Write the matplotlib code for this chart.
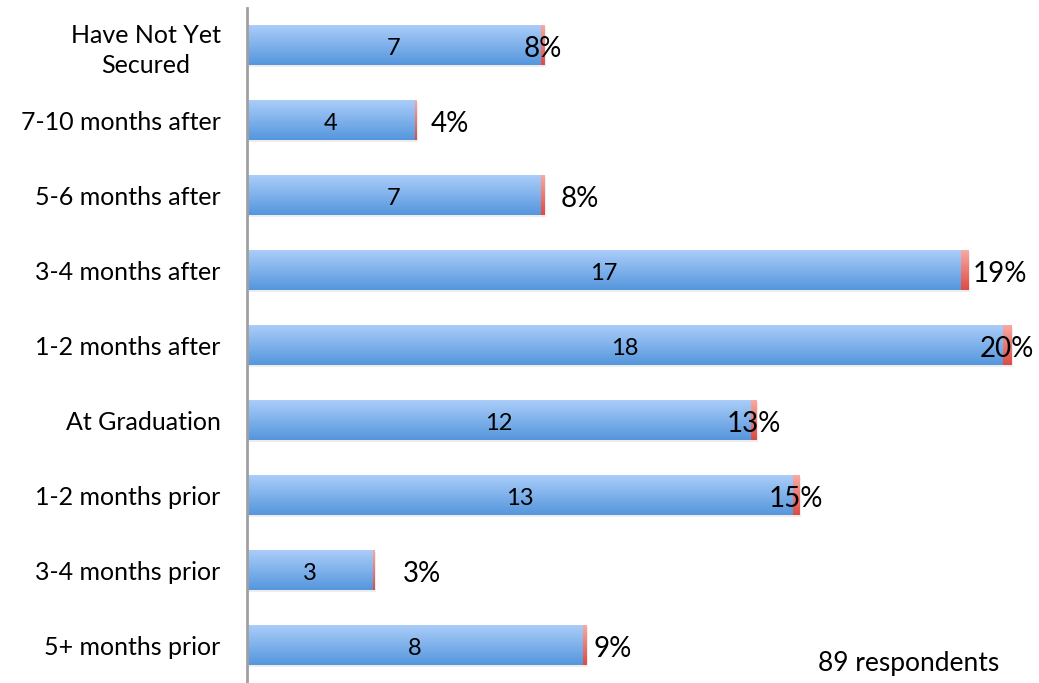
import matplotlib.pyplot as plt
from matplotlib.colors import LinearSegmentedColormap
import numpy as np

plt.rcParams['font.family'] = ['Lato', 'DejaVu Sans']

categories = ["Have Not Yet\nSecured", "7-10 months after", "5-6 months after",
              "3-4 months after", "1-2 months after", "At Graduation",
              "1-2 months prior", "3-4 months prior", "5+ months prior"]
counts = [7, 4, 7, 17, 18, 12, 13, 3, 8]
percents = [8, 4, 8, 19, 20, 13, 15, 3, 9]

# where Excel pushed the % labels sideways (in bar units)
label_shift = [0, 0.82, 0.88, 0.83, 0, 0, 0, 1.15, 0.66]

blue = LinearSegmentedColormap.from_list("blue", ["#5596dd", "#aacdf9"])
red = LinearSegmentedColormap.from_list("red", ["#dd4c44", "#f9a9a2"])
grad = np.linspace(1, 0, 64).reshape(-1, 1)


def fill_gradient(ax, bars, cmap):
    for b in bars:
        x0, y0 = b.get_x(), b.get_y()
        w, h = b.get_width(), b.get_height()
        ax.imshow(grad, cmap=cmap, aspect="auto", interpolation="bilinear",
                  extent=(x0, x0 + w, y0 + h, y0), origin="upper",
                  clip_path=b, zorder=2)


fig = plt.figure(figsize=(10.39, 6.83), dpi=100)
ax = fig.add_axes([247 / 1039, 0.0007, 792 / 1039, 675 / 683])

y = np.arange(len(categories))
frac = np.array(percents) / 100
h = 0.53

# soft shadow under bars
ax.barh(y + 0.03, np.array(counts) + frac, height=h, left=0.03,
        color="#000000", alpha=0.07, zorder=1)
blue_bars = ax.barh(y, counts, height=h, color="none", zorder=2)
red_bars = ax.barh(y, frac, height=h, left=counts, color="none", zorder=2)
fill_gradient(ax, blue_bars, blue)
fill_gradient(ax, red_bars, red)

for i in range(len(categories)):
    ax.text(counts[i] / 2, y[i] + 0.04, str(counts[i]), ha="center", va="center",
            fontsize=17, zorder=3)
    ax.text(counts[i] + frac[i] / 2 + label_shift[i], y[i] + 0.05,
            f"{percents[i]}%", ha="center", va="center", fontsize=20, zorder=3)

ax.set_xlim(0, 792 / 42)
ax.set_ylim(len(categories) - 0.5, -0.5)
ax.set_yticks(y)
ax.set_yticklabels(categories, fontsize=18, multialignment="center",
                   linespacing=1.35)
ax.tick_params(axis="y", length=0, pad=19)
ax.set_xticks([])
for s in ["top", "right", "bottom"]:
    ax.spines[s].set_visible(False)
ax.spines["left"].set_color("#a0a0a0")
ax.spines["left"].set_linewidth(2)

ax.text(0.835, 0.028, "89 respondents", transform=ax.transAxes,
        ha="center", va="center", fontsize=19)

plt.savefig("out.png", dpi=100)
